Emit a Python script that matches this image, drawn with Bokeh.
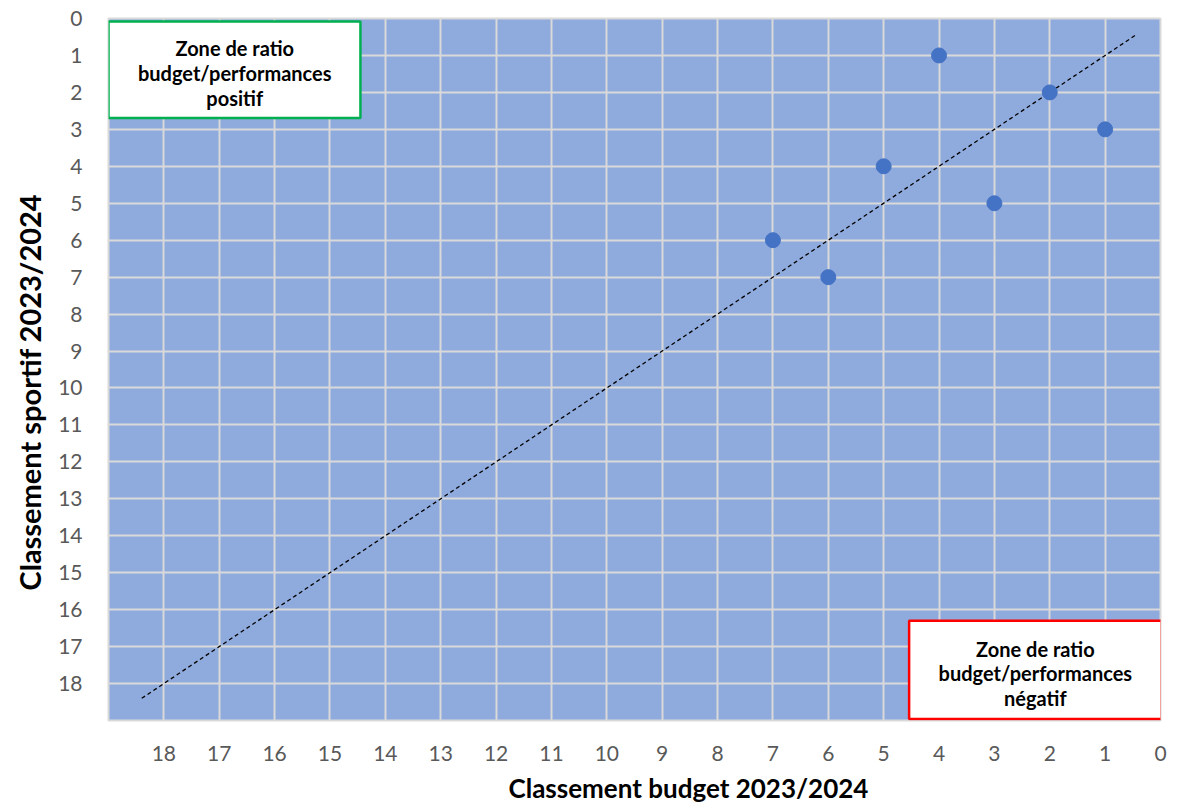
from bokeh.plotting import figure
from bokeh.models import Range1d, FixedTicker, ColumnDataSource, Title
from bokeh.embed import file_html
from bokeh.resources import INLINE
from bokeh.core.properties import value

# Data
budget_rank = [7, 6, 5, 4, 3, 2, 1]
sport_rank = [6, 7, 4, 1, 5, 2, 3]
tick_values = list(range(0, 19))
diag_x = [18.4, 0.45]
diag_y = [18.4, 0.45]

x_title = "Classement budget 2023/2024"
y_title = "Classement sportif 2023/2024"
zone_pos_lines = ["Zone de ratio", "budget/performances", "positif"]
zone_neg_lines = ["Zone de ratio", "budget/performances", "négatif"]

# box extents (data coords)
pos_box = dict(left=19, right=14.45, top=0.08, bottom=2.69)
neg_box = dict(left=4.54, right=-0.02, top=16.3, bottom=18.96)
pos_text_x = 16.72
pos_text_y = [0.80, 1.47, 2.15]
neg_text_x = 2.26
neg_text_y = [17.07, 17.72, 18.39]

p = figure(width=1182, height=809, output_backend="svg", toolbar_location=None,
           x_range=Range1d(19, 0), y_range=Range1d(19, 0),
           min_border_left=105, min_border_right=22, min_border_top=18,
           min_border_bottom=89)

p.background_fill_color = "#8faadc"
p.border_fill_color = "white"
p.outline_line_color = "#d9d9d9"
p.outline_line_width = 2

for ax in (p.xaxis, p.yaxis):
    ax.ticker = FixedTicker(ticks=tick_values)
    ax.axis_line_color = None
    ax.major_tick_line_color = None
    ax.minor_tick_line_color = None
    ax.major_label_text_font = "Lato"
    ax.major_label_text_font_size = "21px"
    ax.major_label_text_color = "#595959"

p.xaxis.major_label_standoff = 19
p.yaxis.major_label_standoff = 20

p.add_layout(Title(text=x_title, align="left", offset=400, standoff=12,
                   text_font="Lato", text_font_style="bold",
                   text_font_size="26px", text_color="black"), "below")
p.add_layout(Title(text=y_title, align="left", offset=130, standoff=18,
                   text_font="Lato", text_font_style="bold",
                   text_font_size="29px", text_color="black"), "left")

for g in (p.xgrid, p.ygrid):
    g.ticker = FixedTicker(ticks=tick_values)
    g.grid_line_color = "#d9d9d9"
    g.grid_line_width = 2

p.line(diag_x, diag_y, line_color="black", line_width=1.3, line_dash="4 3")

p.scatter(budget_rank, sport_rank, size=15, fill_color="#4472c4",
          line_color="#4472c4", marker="circle")

p.quad(**pos_box, fill_color="white", line_color="#00b050", line_width=2.5)
p.quad(**neg_box, fill_color="white", line_color="#ff0000", line_width=2.5)

src_pos = ColumnDataSource(dict(x=[pos_text_x] * 3, y=pos_text_y, t=zone_pos_lines))
src_neg = ColumnDataSource(dict(x=[neg_text_x] * 3, y=neg_text_y, t=zone_neg_lines))
for src in (src_pos, src_neg):
    p.text(x="x", y="y", text="t", source=src, text_align="center",
           text_baseline="middle", text_font=value("Lato"),
           text_font_style="bold", text_font_size="20px", text_color="black")

open("out.html", "w").write(file_html(p, INLINE))
